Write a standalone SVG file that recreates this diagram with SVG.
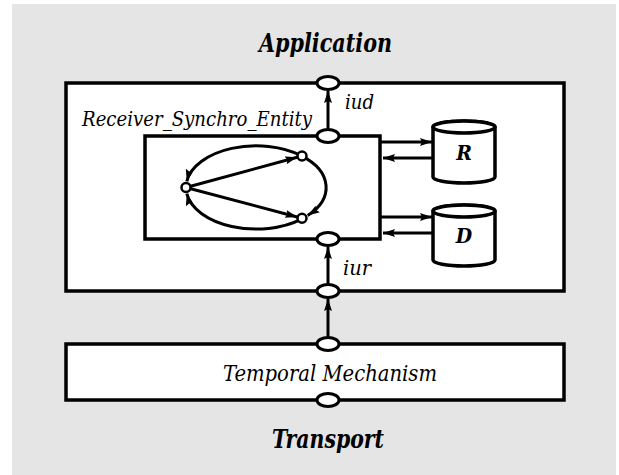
<svg xmlns="http://www.w3.org/2000/svg" width="619" height="475" viewBox="0 0 619 475">
  <style>
    .box { fill: #ffffff; stroke: #000000; stroke-width: 3.5; }
    .port { fill: #ffffff; stroke: #000000; stroke-width: 3; }
    .node { fill: #ffffff; stroke: #000000; stroke-width: 2.5; }
    .line { fill: none; stroke: #000000; stroke-width: 3; }
    .arc { fill: none; stroke: #000000; stroke-width: 3; }
    text { font-family: "DejaVu Serif", "Liberation Serif", serif; font-stretch: condensed; fill: #000000; }
    .ti { font-style: italic; }
    .tb { font-style: italic; font-weight: bold; }
  </style>
  <defs>
    <marker id="arr" markerUnits="userSpaceOnUse" markerWidth="14" markerHeight="10" refX="12" refY="4" orient="auto">
      <path d="M0,0 L12,4 L0,8 L2,4 Z" fill="#000000"/>
    </marker>
  </defs>

  <rect x="12" y="4" width="604" height="471" fill="#e5e5e5"/>

  <text class="tb" x="259" y="52" font-size="26" textLength="133" lengthAdjust="spacingAndGlyphs">Application</text>
  <text class="tb" x="272" y="448" font-size="26" textLength="112" lengthAdjust="spacingAndGlyphs">Transport</text>

  <g id="application-box">
    <rect class="box" x="66" y="83" width="498" height="208"/>
  </g>

  <g id="receiver-synchro-entity">
    <rect class="box" x="145" y="136" width="235" height="103"/>
    <text class="ti" x="82" y="126" font-size="20" textLength="230" lengthAdjust="spacingAndGlyphs">Receiver_Synchro_Entity</text>
  </g>

  <g id="temporal-mechanism">
    <rect class="box" x="66" y="344" width="498" height="56"/>
    <text class="ti" x="223" y="381" font-size="21.5" textLength="214" lengthAdjust="spacingAndGlyphs">Temporal Mechanism</text>
  </g>

  <g id="cylinder-R">
    <path class="box" d="M433,127 V177 A31,6 0 0 0 495,177 V127 A31,6 0 0 0 433,127 Z" stroke-width="3"/>
    <ellipse class="box" cx="464" cy="127" rx="31" ry="6" stroke-width="3"/>
    <text class="tb" x="464" y="160" font-size="21" text-anchor="middle">R</text>
  </g>

  <g id="cylinder-D">
    <path class="box" d="M433,211 V260 A31,6 0 0 0 495,260 V211 A31,6 0 0 0 433,211 Z" stroke-width="3"/>
    <ellipse class="box" cx="464" cy="211" rx="31" ry="6" stroke-width="3"/>
    <text class="tb" x="464" y="243" font-size="21" text-anchor="middle">D</text>
  </g>

  <g id="connectors">
    <line class="line" x1="328" y1="130" x2="328" y2="91" marker-end="url(#arr)"/>
    <line class="line" x1="328" y1="285" x2="328" y2="247" marker-end="url(#arr)"/>
    <line class="line" x1="328" y1="338" x2="328" y2="299" marker-end="url(#arr)"/>
    <line class="line" x1="381" y1="142" x2="432" y2="142" marker-end="url(#arr)"/>
    <line class="line" x1="432" y1="158" x2="383" y2="158" marker-end="url(#arr)"/>
    <line class="line" x1="381" y1="217" x2="432" y2="217" marker-end="url(#arr)"/>
    <line class="line" x1="432" y1="233" x2="383" y2="233" marker-end="url(#arr)"/>
    <path class="arc" d="M302,156 A70,41.5 0 0 0 186.8,181.3" marker-end="url(#arr)"/>
    <path class="arc" d="M302,218.9 A70,41.5 0 0 1 186.8,193.7" marker-end="url(#arr)"/>
    <path class="arc" d="M302,156.1 A70,41.5 0 0 1 307.7,215.5" marker-end="url(#arr)"/>
    <line class="line" x1="186" y1="187.5" x2="297.2" y2="157.3" marker-end="url(#arr)"/>
    <line class="line" x1="186" y1="187.5" x2="297.2" y2="217" marker-end="url(#arr)"/>
  </g>

  <g id="port-iud-outer"><ellipse class="port" cx="328" cy="83" rx="11" ry="6.5"/></g>
  <g id="port-iud-inner"><ellipse class="port" cx="328" cy="136" rx="11" ry="6.5"/></g>
  <g id="port-iur-inner"><ellipse class="port" cx="328" cy="239" rx="11" ry="6.5"/></g>
  <g id="port-iur-outer"><ellipse class="port" cx="328" cy="291" rx="11" ry="6.5"/></g>
  <g id="port-tm-top"><ellipse class="port" cx="328" cy="344" rx="11" ry="6.5"/></g>
  <g id="port-tm-bottom"><ellipse class="port" cx="328" cy="400" rx="11" ry="6.5"/></g>

  <g id="label-iud"><text class="ti" x="345" y="109" font-size="21" textLength="29" lengthAdjust="spacingAndGlyphs">iud</text></g>
  <g id="label-iur"><text class="ti" x="343" y="275" font-size="21" textLength="28" lengthAdjust="spacingAndGlyphs">iur</text></g>

  <g id="state-left"><circle class="node" cx="186" cy="187.5" r="4.5"/></g>
  <g id="state-upper"><circle class="node" cx="302" cy="156" r="4.5"/></g>
  <g id="state-lower"><circle class="node" cx="302" cy="218.3" r="4.5"/></g>
</svg>
